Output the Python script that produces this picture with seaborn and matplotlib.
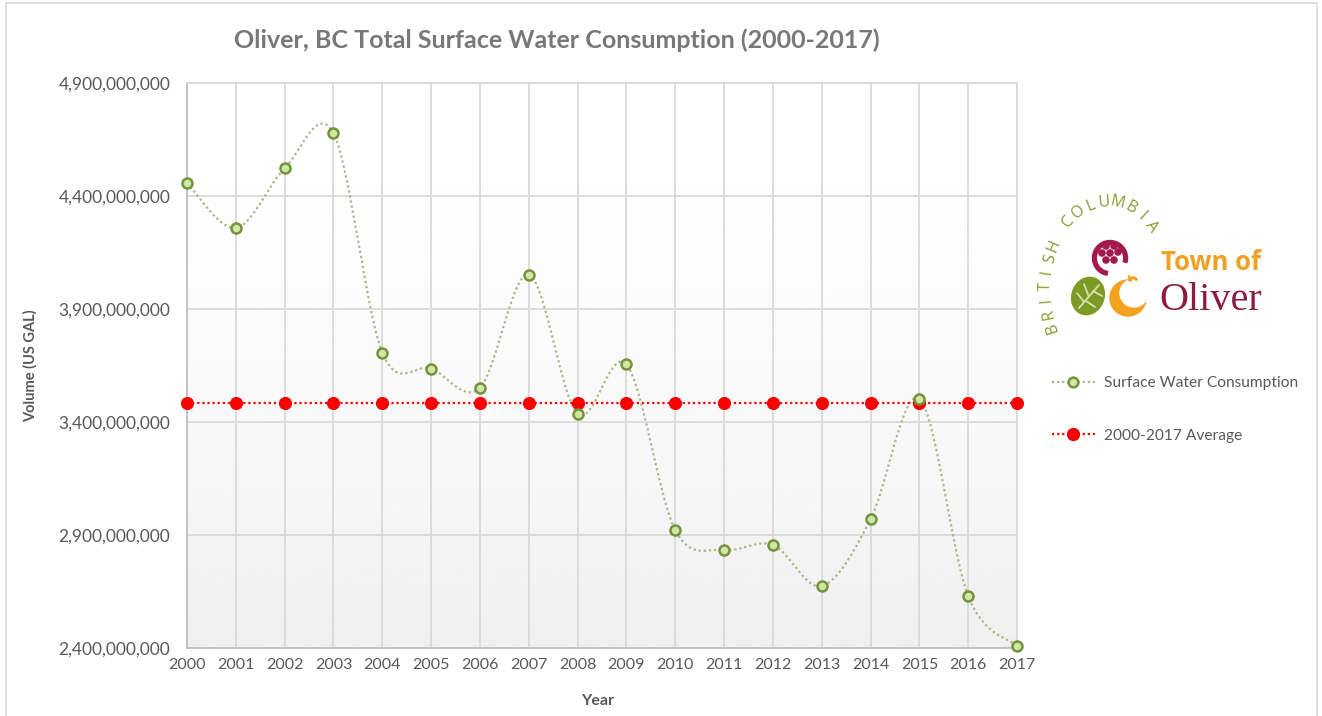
import numpy as np
import pandas as pd
import matplotlib
matplotlib.use("Agg")
import matplotlib.pyplot as plt
from matplotlib.lines import Line2D
from matplotlib.patches import Circle, Ellipse, Wedge
from matplotlib.ticker import FuncFormatter
import seaborn as sns

# ---- data -----------------------------------------------------------------
years = list(range(2000, 2018))
consumption = [4.458e9, 4.258e9, 4.522e9, 4.677e9, 3.707e9, 3.636e9,
               3.552e9, 4.052e9, 3.437e9, 3.655e9, 2.922e9, 2.834e9,
               2.856e9, 2.674e9, 2.969e9, 3.503e9, 2.630e9, 2.409e9]
y_ticks = [2.4e9, 2.9e9, 3.4e9, 3.9e9, 4.4e9, 4.9e9]
series_names = ["Surface Water Consumption", "2000-2017 Average"]

average = float(np.mean(consumption))
df = pd.DataFrame({"Year": years, "Volume": consumption})
df_avg = pd.DataFrame({"Year": years, "Volume": [average] * len(years)})


def smooth_curve(x, y, steps=30):
    """Bezier smoothing through every point (Catmull-Rom style control points)."""
    x = np.asarray(x, float)
    y = np.asarray(y, float)
    n = len(x)
    px = np.concatenate([[x[0]], x, [x[-1]]])
    py = np.concatenate([[y[0]], y, [y[-1]]])
    xs, ys = [], []
    t = np.linspace(0, 1, steps)
    for i in range(n - 1):
        p0 = np.array([px[i + 1], py[i + 1]])
        p3 = np.array([px[i + 2], py[i + 2]])
        c1 = p0 + (p3 - np.array([px[i], py[i]])) / 6.0
        c2 = p3 - (np.array([px[i + 3], py[i + 3]]) - p0) / 6.0
        b = ((1 - t) ** 3)[:, None] * p0 + (3 * (1 - t) ** 2 * t)[:, None] * c1 \
            + (3 * (1 - t) * t ** 2)[:, None] * c2 + (t ** 3)[:, None] * p3
        xs.extend(b[:, 0])
        ys.extend(b[:, 1])
    return np.array(xs), np.array(ys)


sx, sy = smooth_curve(years, consumption)
df_smooth = pd.DataFrame({"Year": sx, "Volume": sy})

# ---- style ----------------------------------------------------------------
sns.set_theme(style="white")
plt.rcParams["font.family"] = ["Lato", "DejaVu Sans"]
TXT = "#595959"

W, H = 1322, 716
fig = plt.figure(figsize=(W / 100, H / 100), dpi=100)
fig.patch.set_facecolor("white")

# outer chart border
fig.add_artist(plt.Rectangle((6 / W, -0.01), (1317 - 6) / W, 1 - 3 / H + 0.01,
                             transform=fig.transFigure, fill=False,
                             edgecolor="#d9d9d9", lw=1.2))

L, R, T, B = 187, 1017, 83, 648
ax = fig.add_axes([L / W, 1 - B / H, (R - L) / W, (B - T) / H])

# plot-area gradient (white at top, light grey at bottom)
g = np.linspace(0, 1, 256) ** 1.6
grad = 1.0 - 0.06 * g
ax.imshow(np.repeat(grad[:, None], 2, axis=1), cmap="gray", vmin=0, vmax=1,
          extent=[0, 1, 0, 1], transform=ax.transAxes, aspect="auto",
          zorder=0, interpolation="bicubic")

ax.set_xlim(2000, 2017)
ax.set_ylim(2.4e9, 4.9e9)
ax.set_xticks(years)
ax.set_yticks(y_ticks)
ax.yaxis.set_major_formatter(FuncFormatter(lambda v, p: f"{v:,.0f}"))
ax.grid(True, color="#d9d9d9", lw=1.3, zorder=1)
ax.set_axisbelow(True)
for side in ["top", "right"]:
    ax.spines[side].set_color("#d9d9d9")
    ax.spines[side].set_linewidth(1.3)
for side in ["left", "bottom"]:
    ax.spines[side].set_color("#bfbfbf")
    ax.spines[side].set_linewidth(1.3)
ax.tick_params(axis="both", length=0, labelcolor=TXT)
ax.tick_params(axis="y", pad=12, labelsize=12.5)
ax.tick_params(axis="x", pad=7, labelsize=11.5)

# smoothed consumption curve + markers
sns.lineplot(data=df_smooth, x="Year", y="Volume", ax=ax, sort=False,
             estimator=None, color="#aeb486", lw=1.6,
             linestyle=(0, (1, 1.3)), zorder=3, legend=False)
# average line + markers
sns.lineplot(data=df_avg, x="Year", y="Volume", ax=ax, estimator=None,
             color="#ff0000", lw=1.6, linestyle=(0, (1, 1.3)), zorder=4,
             legend=False)
sns.scatterplot(data=df_avg, x="Year", y="Volume", ax=ax, s=78,
                color="#ff0000", edgecolor="#e60000", linewidth=0.6,
                zorder=5, clip_on=False, legend=False)
sns.scatterplot(data=df, x="Year", y="Volume", ax=ax, s=52,
                color="#cfe8a6", edgecolor="#76923c", linewidth=1.8,
                zorder=6, clip_on=False, legend=False)

ax.set_xlabel("Year", fontsize=11.5, fontweight="bold", color=TXT)
ax.set_ylabel("Volume (US GAL)", fontsize=10.5, fontweight="bold", color=TXT)
ax.xaxis.set_label_coords(0.495, -0.081)
ax.yaxis.set_label_coords((38 - L) / (R - L), 0.5)

fig.text(557 / W, 1 - 40 / H,
         "Oliver, BC Total Surface Water Consumption (2000-2017)",
         ha="center", va="center", fontsize=18, fontweight="bold",
         color="#787878")

# legend
handles = [
    Line2D([], [], color="#aeb486", lw=1.6, linestyle=(0, (1, 1.3)),
           marker="o", markersize=7, markerfacecolor="#cfe8a6",
           markeredgecolor="#76923c", markeredgewidth=1.8),
    Line2D([], [], color="#ff0000", lw=1.6, linestyle=(0, (1, 1.3)),
           marker="o", markersize=8.5, markerfacecolor="#ff0000",
           markeredgecolor="#e60000"),
]
fig.legend(handles, series_names, loc="center left",
           bbox_to_anchor=(1052 / W, 1 - 409.5 / H), frameon=False,
           borderaxespad=0, borderpad=0, handlelength=2.75,
           handletextpad=0.6, labelspacing=2.48, fontsize=11.2,
           labelcolor=TXT, numpoints=1)

# ---- Town of Oliver logo ----------------------------------------------------
lx0, lx1, ly0, ly1 = 1030, 1290, 190, 350
lax = fig.add_axes([lx0 / W, 1 - ly1 / H, (lx1 - lx0) / W, (ly1 - ly0) / H])
lax.set_xlim(lx0, lx1)
lax.set_ylim(ly1, ly0)
lax.axis("off")

# curved "BRITISH COLUMBIA"
arc_text = "BRITISH COLUMBIA"
cx, cy, ea, eb = 1108, 290, 62, 88
th = np.radians(np.linspace(-115, 44, 2000))
speed = np.sqrt((ea * np.cos(th)) ** 2 + (eb * np.sin(th)) ** 2)
arclen = np.concatenate([[0], np.cumsum(0.5 * (speed[1:] + speed[:-1]) * np.diff(th))])
targets = np.linspace(0, arclen[-1], len(arc_text))
for ch, s in zip(arc_text, targets):
    if ch == " ":
        continue
    t = np.interp(s, arclen, th)
    px = cx + ea * np.sin(t)
    py = cy - eb * np.cos(t)
    rot = np.degrees(np.arctan2(-eb * np.sin(t), ea * np.cos(t)))
    lax.text(px, py, ch, ha="center", va="center", rotation=rot,
             rotation_mode="anchor", fontsize=11.5, color="#8a9a2e",
             family=["Open Sans", "DejaVu Sans"])

# grape ring and grapes
lax.add_patch(Wedge((1110, 258), 17.5, 100, 15, width=3.8, color="#a3194b"))
for gx, gy in [(1106, 246), (1114, 246), (1102, 253), (1110, 253),
               (1118, 252), (1106, 260), (1114, 260)]:
    lax.add_patch(Circle((gx, gy), 3.1, color="#a3194b"))
# leaf
lax.add_patch(Ellipse((1088, 296), 32, 38, angle=20, color="#7d9a27"))
for (x0, y0, x1, y1) in [(1079, 308, 1099, 285), (1089, 297, 1084, 284),
                         (1093, 291, 1102, 296), (1084, 302, 1077, 293),
                         (1086, 301, 1095, 307)]:
    lax.plot([x0, x1], [y0, y1], color="#d6e0a8", lw=1.3)
# orange crescent with a little stem
lax.add_patch(Circle((1128, 298), 18, color="#f4a21d"))
lax.add_patch(Circle((1134, 293), 14, color="white"))
lax.add_patch(Wedge((1133, 282), 5, 200, 330, width=1.6, color="#f4a21d"))
lax.plot([1131, 1129], [281, 276], color="#f4a21d", lw=1.5)

lax.text(1211, 262, "Town of", ha="center", va="center", fontsize=18.5,
         fontweight="bold", color="#f0a024", family=["Open Sans", "DejaVu Sans"])
lax.text(1211, 300, "Oliver", ha="center", va="center", fontsize=29,
         color="#8e1a40", family=["Liberation Serif", "DejaVu Serif"])

fig.savefig("out.png", dpi=100, facecolor="white")
